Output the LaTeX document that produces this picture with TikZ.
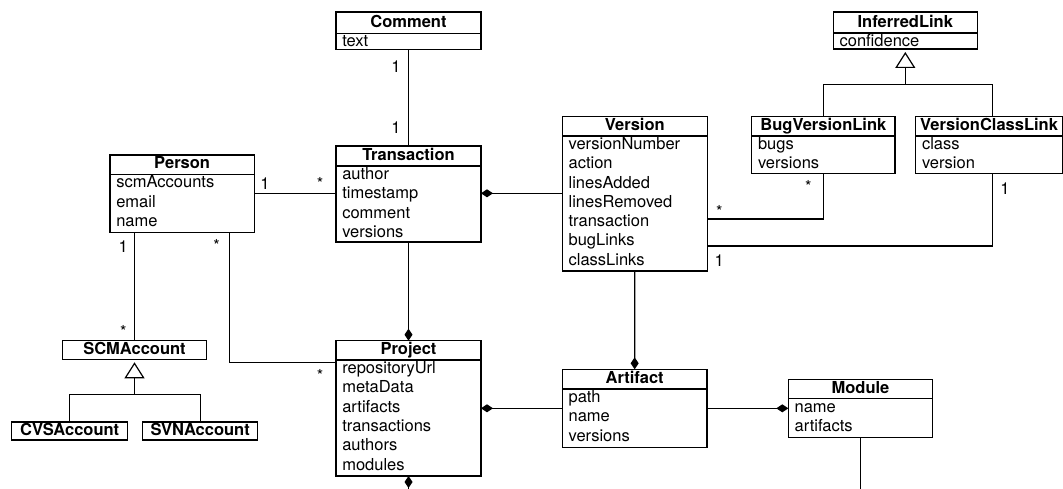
\documentclass[tikz,border=0pt]{standalone}
\usepackage{fontspec}
\setmainfont{TeX Gyre Heros}
\usetikzlibrary{arrows.meta}

% class box: name, left, top, right, header bottom, bottom, title, attributes
\newcommand\umlclass[8]{%
  \node[classbox, minimum width={(#4-#2)*1pt}, minimum height={(#6-#3)*1pt}] (#1) at ({(#2+#4)/2},{(#3+#6)/2}) {};
  \draw (#2,#5) -- (#4,#5);
  \node[classtitle] (#1-title) at ({(#2+#4)/2},#5-5.5) {#7};
  \foreach \a [count=\i from 0] in {#8} \node[attr] (#1-a\i) at (#2+5.7,#5+13.5+19.3*\i) {\a};
}
% class box with a title only: name, left, top, right, bottom, title
\newcommand\umlhead[6]{%
  \node[classbox, minimum width={(#4-#2)*1pt}, minimum height={(#5-#3)*1pt}] (#1) at ({(#2+#4)/2},{(#3+#5)/2}) {};
  \node[classtitle] (#1-title) at ({(#2+#4)/2},#5-4.8) {#6};
}

\begin{document}
\begin{tikzpicture}[x=1pt,y=-1pt,
  line width=1.2pt,
  classbox/.style={draw, rectangle, inner sep=0, outer sep=0, fill=white},
  classtitle/.style={anchor=base, inner sep=0, font=\bfseries\fontsize{16.5}{19.3}\selectfont},
  attr/.style={anchor=base west, inner sep=0, font=\fontsize{16.5}{19.3}\selectfont},
  mult/.style={anchor=base, inner sep=0, font=\fontsize{16.5}{19.3}\selectfont},
  comp/.style={-{Diamond[length=12pt,width=8pt]}},
  gen/.style={-{Triangle[open,length=16pt,width=20pt]}},
]
\useasboundingbox (0,0) rectangle (1063,489);
\clip (0,0) rectangle (1063,489);

% classes
\umlclass{Comment}{336}{12}{481}{33.5}{49.5}{Comment}{text}
\umlclass{Transaction}{336}{146}{481}{166}{242}{Transaction}{author,timestamp,comment,versions}
\umlclass{Version}{562.3}{116.7}{707.3}{136}{271}{Version}{versionNumber,action,linesAdded,linesRemoved,transaction,bugLinks,classLinks}
\umlclass{Person}{110}{155}{254.3}{174.3}{232.3}{Person}{scmAccounts,email,name}
\umlhead{SCMAccount}{62.3}{340.7}{206.7}{359.3}{SCMAccount}
\umlhead{CVSAccount}{11.7}{422}{127.7}{440}{CVSAccount}
\umlhead{SVNAccount}{142.7}{422}{257.7}{440}{SVNAccount}
\umlclass{Project}{336}{340.7}{481}{360}{476}{Project}{repositoryUrl,metaData,artifacts,transactions,authors,modules}
\umlclass{Artifact}{562.3}{369.3}{707}{389}{447.3}{Artifact}{path,name,versions}
\umlclass{Module}{788.3}{379.3}{932.7}{398.7}{437.3}{Module}{name,artifacts}
\umlclass{InferredLink}{833.3}{12}{977.3}{33}{49}{InferredLink}{confidence}
\umlclass{BugVersionLink}{751.7}{116.7}{895}{136}{173.3}{BugVersionLink}{bugs,versions}
\umlclass{VersionClassLink}{915.7}{116.7}{1062.4}{136}{173.3}{VersionClassLink}{class,version}

% associations
\draw (Comment.south) -- (Transaction.north);
\draw (Person.east) -- (Transaction.west |- Person.east);
\draw (SCMAccount.north) -- (SCMAccount.north |- Person.south);
\coordinate (pp) at (229.7,362.7);
\draw (Person.south -| pp) |- (Project.west |- pp);
\coordinate (vclx) at (992.7,0);
\draw (BugVersionLink.south) |- (Version.east |- 0,219);
\draw (vclx |- VersionClassLink.south) |- (Version.east |- 0,246);
\draw (Module.south) -- ++(0,60);

% compositions
\draw[comp] (Version.west |- 0,193.3) -- (Transaction.east |- 0,193.3);
\draw[comp] (Transaction.south) -- (Project.north);
\draw[{Diamond[length=12pt,width=8pt]}-] (Project.south) -- ++(0,30);
\draw[comp] (Artifact.west) -- (Project.east |- Artifact.west);
\draw[comp] (Version.south) -- (Artifact.north);
\draw[comp] (Artifact.east) -- (Module.west |- Artifact.east);

% generalizations
\coordinate (scmjoin) at (SCMAccount.south |- 0,394.7);
\draw[gen] (CVSAccount.north) |- (scmjoin) -- ([yshift=-3pt]SCMAccount.south);
\draw (SVNAccount.north) |- (scmjoin);
\coordinate (ilj) at (InferredLink.south |- 0,84.3);
\draw[gen] (BugVersionLink.north) |- (ilj) -- ([yshift=-3pt]InferredLink.south);
\draw (vclx |- VersionClassLink.north) |- (ilj);

% multiplicities
\node[mult] (m1) at (396,72.6) {1};
\node[mult] (m2) at (396,133.6) {1};
\node[mult] (m3) at (265,189.2) {1};
\node[mult] (m4) at (320,189.5) {*};
\node[mult] (m5) at (123.3,252) {1};
\node[mult] (m6) at (123.3,337.8) {*};
\node[mult] (m7) at (216.7,251.2) {*};
\node[mult] (m8) at (320,381.2) {*};
\node[mult] (m9) at (808.3,192.8) {*};
\node[mult] (m10) at (719.3,217.8) {*};
\node[mult] (m11) at (1005,194.2) {1};
\node[mult] (m12) at (719.3,266) {1};
\end{tikzpicture}
\end{document}
